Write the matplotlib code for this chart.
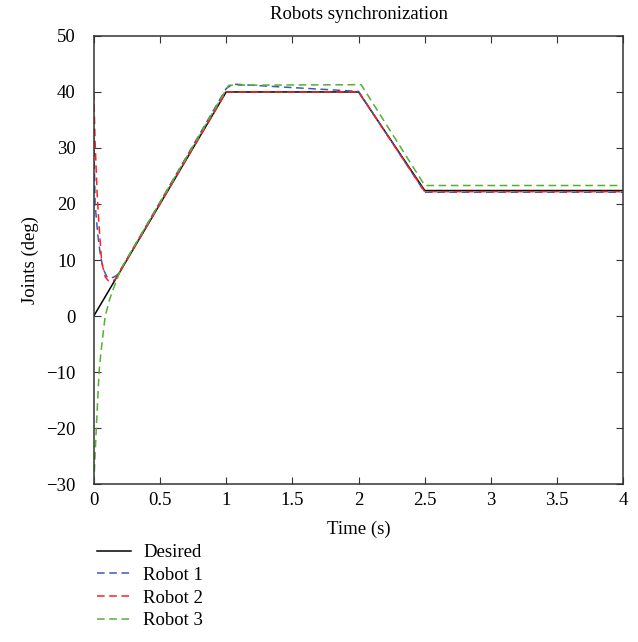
import matplotlib
matplotlib.use("Agg")
import matplotlib.pyplot as plt

plt.rcParams['font.family'] = ['Liberation Serif', 'DejaVu Serif']
plt.rcParams['font.size'] = 13.5

# Time / joint samples
t_des = [0, 1, 2, 2.5, 4]
q_des = [0, 40, 40, 22.4, 22.4]

t_r1 = [0, 0.01, 0.03, 0.05, 0.073, 0.10, 0.127, 0.155, 0.18, 0.25, 1.0, 1.05, 2.0, 2.5, 4]
q_r1 = [32, 20, 14.6, 10.8, 8.3, 7.0, 6.75, 7.0, 7.4, 10.2, 40.6, 41.4, 40.1, 22.1, 22.1]

t_r2 = [0, 0.01, 0.025, 0.04, 0.06, 0.086, 0.11, 0.135, 0.16, 0.18, 1.0, 2.0, 2.5, 4]
q_r2 = [40, 31, 22, 16, 9.6, 7.0, 6.3, 6.2, 6.5, 7.2, 40, 40, 22.2, 22.2]

t_r3 = [0, 0.019, 0.04, 0.054, 0.086, 0.12, 0.15, 0.18, 0.2, 1.02, 2.02, 2.5, 4]
q_r3 = [-30, -20, -10, -6.5, 0, 3, 5, 6.8, 8.2, 41.2, 41.3, 23.3, 23.3]

fig = plt.figure(figsize=(6.38, 6.42), dpi=100)
ax = fig.add_axes([0.147, 0.246, 0.83, 0.698])

ax.plot(t_des, q_des, color='black', lw=1.1, label='Desired')
ax.plot(t_r1, q_r1, color='#3b5bb5', lw=1.1, ls=(0, (5, 3)), label='Robot 1')
ax.plot(t_r2, q_r2, color='#ff2020', lw=1.1, ls=(0, (5, 3)), label='Robot 2')
ax.plot(t_r3, q_r3, color='#55b030', lw=1.1, ls=(0, (5, 3)), label='Robot 3')

ax.set_xlim(0, 4)
ax.set_ylim(-30, 50)
ax.set_xticks([0, 0.5, 1, 1.5, 2, 2.5, 3, 3.5, 4])
ax.set_xticklabels(['0', '0.5', '1', '1.5', '2', '2.5', '3', '3.5', '4'])
ax.set_yticks(range(-30, 51, 10))
ax.set_yticklabels(['\u221230', '\u221220', '\u221210', '0', '10', '20', '30', '40', '50'])
ax.tick_params(direction='in', top=True, right=True, length=5, color='#333333')
ax.tick_params(axis='x', pad=6)
ax.tick_params(axis='y', pad=13)
for s in ax.spines.values():
    s.set_color('#333333')
    s.set_linewidth(1.1)

ax.set_title('Robots synchronization', fontsize=13.5, pad=12)
ax.set_xlabel('Time (s)', labelpad=8)
ax.set_ylabel('Joints (deg)', labelpad=5)

fig.legend(loc='upper left', bbox_to_anchor=(0.126, 0.179), frameon=False,
           handlelength=1.8, handletextpad=0.65, labelspacing=0.3, fontsize=13.5)

fig.savefig('out.png', dpi=100)
